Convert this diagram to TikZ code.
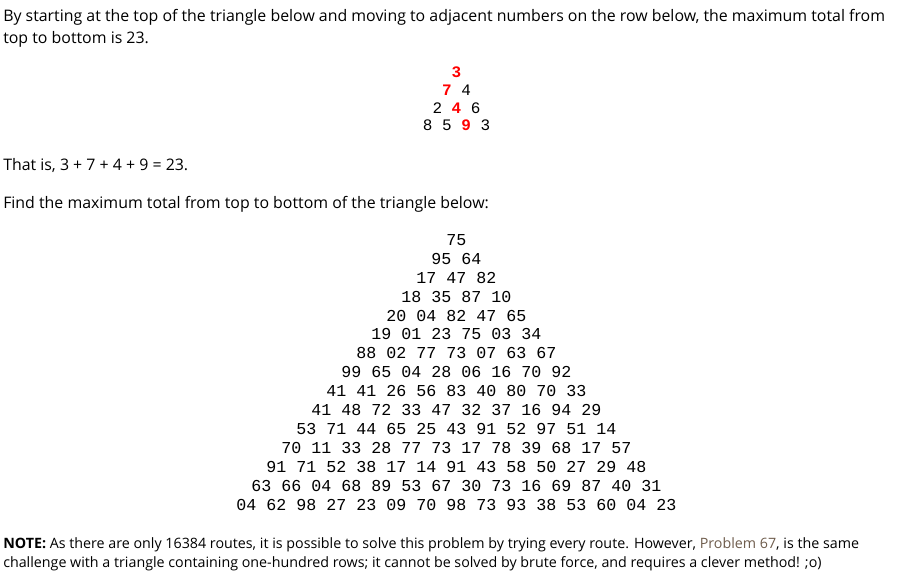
\documentclass[tikz,border=0pt]{standalone}
\usepackage{fontspec}
\setmainfont{Open Sans}
\setmonofont{Liberation Mono}
\definecolor{linkbrown}{RGB}{110,92,76}
\definecolor{pathred}{RGB}{255,0,0}
\newcommand{\hl}[1]{\textcolor{pathred}{\textbf{#1}}}
\tikzset{
  txt/.style={anchor=base west,inner sep=0pt,font=\fontsize{11.92}{14}\selectfont},
  notetxt/.style={anchor=base west,inner sep=0pt,font=\fontsize{10.7}{12}\selectfont},
  smallrow/.style={anchor=base,inner sep=0pt,font=\ttfamily\fontsize{12}{14}\selectfont},
  bigrow/.style={anchor=base,inner sep=0pt,font=\ttfamily\fontsize{12.5}{14}\selectfont}
}
\begin{document}
\begin{tikzpicture}[x=0.75pt,y=-0.75pt]
 \useasboundingbox (0,0) rectangle (899,580);
 % intro
 \node[txt] (intro1) at (3,22) {By starting at the top of the triangle below and moving to adjacent numbers on the row below, the maximum total from};
 \node[txt] (intro2) at (3,44) {top to bottom is 23.};
 % example triangle
 \node[smallrow] (ex1) at (456.5,77.5) {\hl{3}};
 \node[smallrow] (ex2) at (456.5,95.5) {\hl{7} 4};
 \node[smallrow] (ex3) at (456.5,113.5) {2 \hl{4} 6};
 \node[smallrow] (ex4) at (456.5,131) {8 5 \hl{9} 3};
 \node[txt] (sum) at (3,171) {That is, 3 + 7 + 4 + 9 = 23.};
 \node[txt] (task) at (3,209) {Find the maximum total from top to bottom of the triangle below:};
 % problem triangle
 \foreach \r/\nums in {1/75,2/95 64,3/17 47 82,4/18 35 87 10,5/20 04 82 47 65,
   6/19 01 23 75 03 34,7/88 02 77 73 07 63 67,8/99 65 04 28 06 16 70 92,
   9/41 41 26 56 83 40 80 70 33,10/41 48 72 33 47 32 37 16 94 29,
   11/53 71 44 65 25 43 91 52 97 51 14,12/70 11 33 28 77 73 17 78 39 68 17 57,
   13/91 71 52 38 17 14 91 43 58 50 27 29 48,14/63 66 04 68 89 53 67 30 73 16 69 87 40 31,
   15/04 62 98 27 23 09 70 98 73 93 38 53 60 04 23}
   \node[bigrow] (row\r) at (456.4,{245.5+18.9*(\r-1)}) {\nums};
 % note
 \node[notetxt] (note1) at (3,548.3) {\textbf{NOTE:} As there are only 16384 routes, it is possible to solve this problem by trying every route. However, \textcolor{linkbrown}{Problem 67}, is the same};
 \node[notetxt] (note2) at (3,567.3) {challenge with a triangle containing one-hundred rows; it cannot be solved by brute force, and requires a clever method! ;o)};
\end{tikzpicture}
\end{document}
